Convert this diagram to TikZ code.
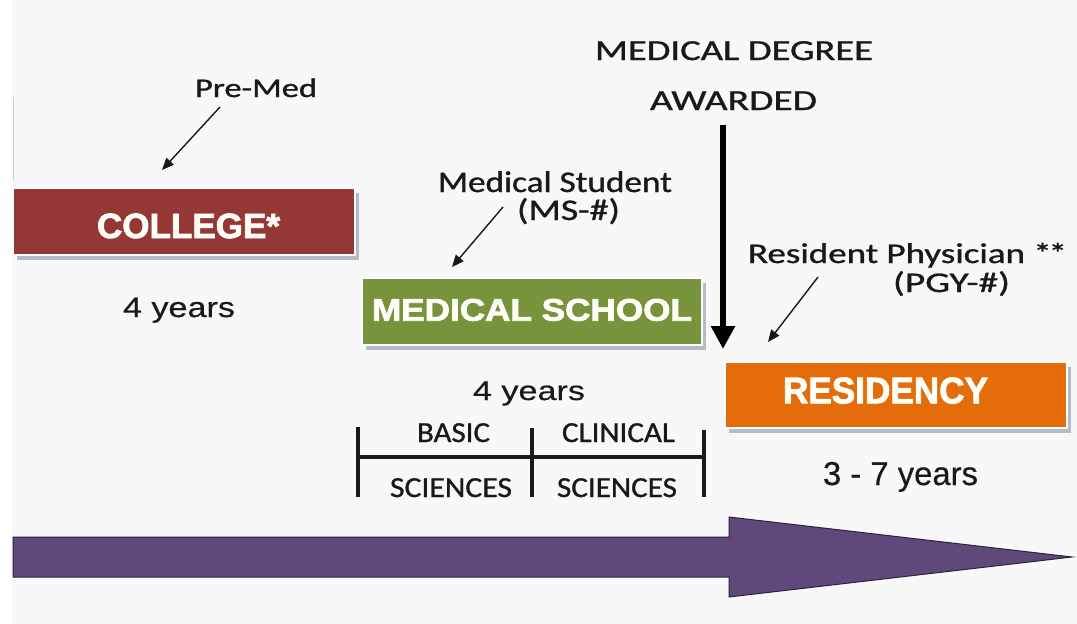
\documentclass[tikz,border=0pt]{standalone}
\usepackage{fontspec}
\usepackage{graphicx}
\setmainfont{Liberation Sans}
\newfontfamily\calfont[FakeBold=0.9]{Carlito}
\newfontfamily\arialfont[FakeBold=0.4]{Liberation Sans}
\newfontfamily\blackfont[FakeBold=2.2]{Liberation Sans Bold}
\usetikzlibrary{arrows.meta,shadows}
\definecolor{bgc}{HTML}{F8F8F8}
\definecolor{collred}{HTML}{953735}
\definecolor{medgreen}{HTML}{77933C}
\definecolor{resorange}{HTML}{E46C0A}
\definecolor{timepurple}{HTML}{5F497A}
\definecolor{timeedge}{HTML}{2E2140}
\definecolor{shadowc}{HTML}{B4BBC8}
\newcommand{\fitw}[2]{\resizebox{#1pt}{\height}{#2}}
\newcommand{\fsz}[1]{\fontsize{#1}{#1}\selectfont}
\begin{document}
\begin{tikzpicture}[x=1pt,y=-1pt,
  lbl/.style={inner sep=0pt, anchor=base, font=\calfont, text=black!90},
  yrs/.style={inner sep=0pt, anchor=base, font=\arialfont, text=black!90},
  stage/.style={inner sep=0pt, anchor=base, text=white!97!yellow, font=\blackfont,
    draw=white, line width=2pt,
    drop shadow={fill=shadowc, opacity=1, shadow xshift=4pt, shadow yshift=-5pt}},
  thinarrow/.style={draw=black!90, line width=1.4pt, -{Triangle[length=12pt,width=10pt]}},
  bigarrow/.style={draw=black, line width=6.5pt, -{Triangle[length=23pt,width=23pt]}},
  bracket/.style={draw=black!90, line width=3.2pt}
]
\useasboundingbox (0,0) rectangle (1077,624);
\fill[white] (0,0) rectangle (1077,624);
\fill[bgc] (12,0) rectangle (1077,624);
\draw[black!20, line width=1pt] (13,97) -- (13,180);

% timeline arrow
\coordinate (tlA) at (13,537);
\coordinate (tlB) at (729,537);
\coordinate (tlC) at (729,517);
\coordinate (tlTip) at (1072,557);
\coordinate (tlD) at (729,597);
\coordinate (tlE) at (729,577);
\coordinate (tlF) at (13,577);
\filldraw[fill=timepurple, draw=timeedge, line width=1pt, line join=miter]
  (tlA) -- (tlB) -- (tlC) -- (tlTip) -- (tlD) -- (tlE) -- (tlF) -- cycle;

% stage boxes
\node[stage, fill=collred, minimum width=342pt, minimum height=67pt,
      text height=33pt, text depth=0pt] (college) at (184,238)
      {\fsz{35}\hspace*{9pt}\fitw{183}{COLLEGE*}};
\node[stage, fill=medgreen, minimum width=340pt, minimum height=67pt,
      text height=24pt, text depth=5.6pt] (medschool) at (532,320.7)
      {\fsz{31.3}\fitw{320}{MEDICAL SCHOOL}};
\node[stage, fill=resorange, minimum width=342pt, minimum height=66pt,
      text height=27pt, text depth=10.4pt] (residency) at (896,403.3)
      {\fsz{37}\fitw{205}{RESIDENCY}\hspace*{21pt}};

% labels
\node[lbl] (premed) at (256,97) {\fsz{27}\fitw{122}{Pre-Med}};
\node[lbl] (degreeA) at (734,60) {\fsz{29}\fitw{278}{MEDICAL DEGREE}};
\node[lbl] (degreeB) at (733.5,110) {\fsz{29}\fitw{167}{AWARDED}};
\node[lbl] (msA) at (555,192) {\fsz{30}\fitw{234}{Medical Student}};
\node[lbl] (msB) at (568.5,220) {\fsz{30}\fitw{103}{(MS-\#)}};
\node[lbl] (resA) at (907.5,263) {\fsz{28.5}\fitw{319}{Resident Physician *\kern-2.5pt*}};
\node[lbl] (resB) at (951.5,292) {\fsz{28.5}\fitw{117}{(PGY-\#)}};

\node[yrs] (yrsCollege) at (179,317) {\fsz{28}\fitw{112}{4 years}};
\node[yrs] (yrsMed) at (529,400) {\fsz{27}\fitw{112}{4 years}};
\node[yrs] (yrsRes) at (900.5,485) {\fsz{33}\fitw{155}{3 - 7 years}};

\node[lbl] (basic) at (453.5,442) {\fsz{29}\fitw{73}{BASIC}};
\node[lbl] (clinical) at (618.5,442) {\fsz{29}\fitw{113}{CLINICAL}};
\node[lbl] (sciA) at (451,497) {\fsz{29}\fitw{122}{SCIENCES}};
\node[lbl] (sciB) at (617,497) {\fsz{29}\fitw{120}{SCIENCES}};

% bracket
\coordinate (brL) at (358,457);
\coordinate (brM) at (532,457);
\coordinate (brR) at (704,457);
\draw[bracket] (brL) -- (brR);
\draw[bracket] ([yshift=-40pt]brL) -- ([yshift=30pt]brL);
\draw[bracket] ([yshift=-40pt]brM) -- ([yshift=29pt]brM);
\draw[bracket] ([yshift=-40pt]brR) -- ([yshift=27pt]brR);

% pointer arrows
\coordinate (premedTail) at (220,107);
\coordinate (premedHead) at (162,170);
\draw[thinarrow] (premedTail) -- (premedHead);
\coordinate (msTail) at (503,207);
\coordinate (msHead) at (452,267);
\draw[thinarrow] (msTail) -- (msHead);
\coordinate (resTail) at (818,277);
\coordinate (resHead) at (768,342);
\draw[thinarrow] (resTail) -- (resHead);

% degree arrow
\coordinate (degTail) at (723,125);
\coordinate (degHead) at (723,349);
\draw[bigarrow] (degTail) -- (degHead);
\end{tikzpicture}
\end{document}
